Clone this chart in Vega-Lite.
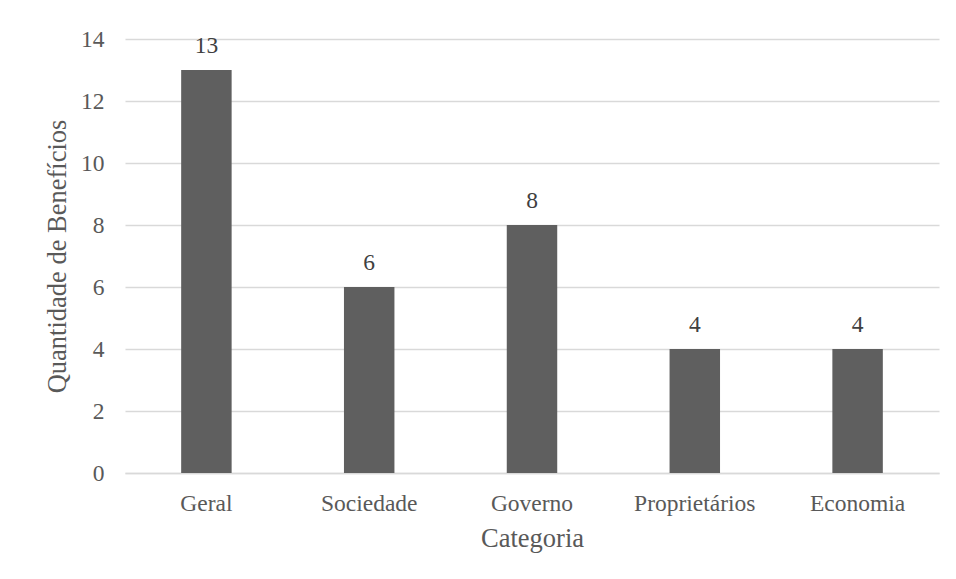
{
  "$schema": "https://vega.github.io/schema/vega-lite/v6.json",
  "width": 814,
  "height": 434,
  "autosize": {"type": "none"},
  "padding": {"left": 125, "top": 39, "right": 17, "bottom": 106},
  "background": "white",
  "config": {
    "view": {"stroke": null},
    "font": "Liberation Serif",
    "text": {"font": "Liberation Serif"}
  },
  "data": {
    "values": [
      {"Categoria": "Geral", "Quantidade": 13},
      {"Categoria": "Sociedade", "Quantidade": 6},
      {"Categoria": "Governo", "Quantidade": 8},
      {"Categoria": "Proprietários", "Quantidade": 4},
      {"Categoria": "Economia", "Quantidade": 4}
    ]
  },
  "encoding": {
    "x": {
      "field": "Categoria",
      "type": "nominal",
      "sort": null,
      "scale": {"paddingInner": 0.69, "paddingOuter": 0.345},
      "axis": {
        "title": "Categoria",
        "labelAngle": 0,
        "labelFont": "Liberation Serif",
        "labelFontSize": 23.5,
        "labelColor": "#595959",
        "labelPadding": 18,
        "titleFont": "Liberation Serif",
        "titleFontSize": 26.5,
        "titleFontWeight": "normal",
        "titleColor": "#595959",
        "titlePadding": 11,
        "ticks": false,
        "domainColor": "#d9d9d9",
        "domainWidth": 1.5
      }
    },
    "y": {
      "field": "Quantidade",
      "type": "quantitative",
      "scale": {"domain": [0, 14]},
      "axis": {
        "title": "Quantidade de Benefícios",
        "values": [0, 2, 4, 6, 8, 10, 12, 14],
        "labelFont": "Liberation Serif",
        "labelFontSize": 23.5,
        "labelColor": "#595959",
        "labelPadding": 21,
        "titleFont": "Liberation Serif",
        "titleFontSize": 26.5,
        "titleFontWeight": "normal",
        "titleColor": "#595959",
        "titlePadding": 9,
        "ticks": false,
        "domain": false,
        "gridColor": "#d9d9d9",
        "gridWidth": 1.5
      }
    }
  },
  "layer": [
    {"mark": {"type": "bar", "color": "#5f5f5f"}},
    {
      "mark": {"type": "text", "baseline": "alphabetic", "dy": -17, "fontSize": 23.5, "color": "#404040", "font": "Liberation Serif"},
      "encoding": {"text": {"field": "Quantidade", "type": "quantitative"}}
    }
  ]
}
